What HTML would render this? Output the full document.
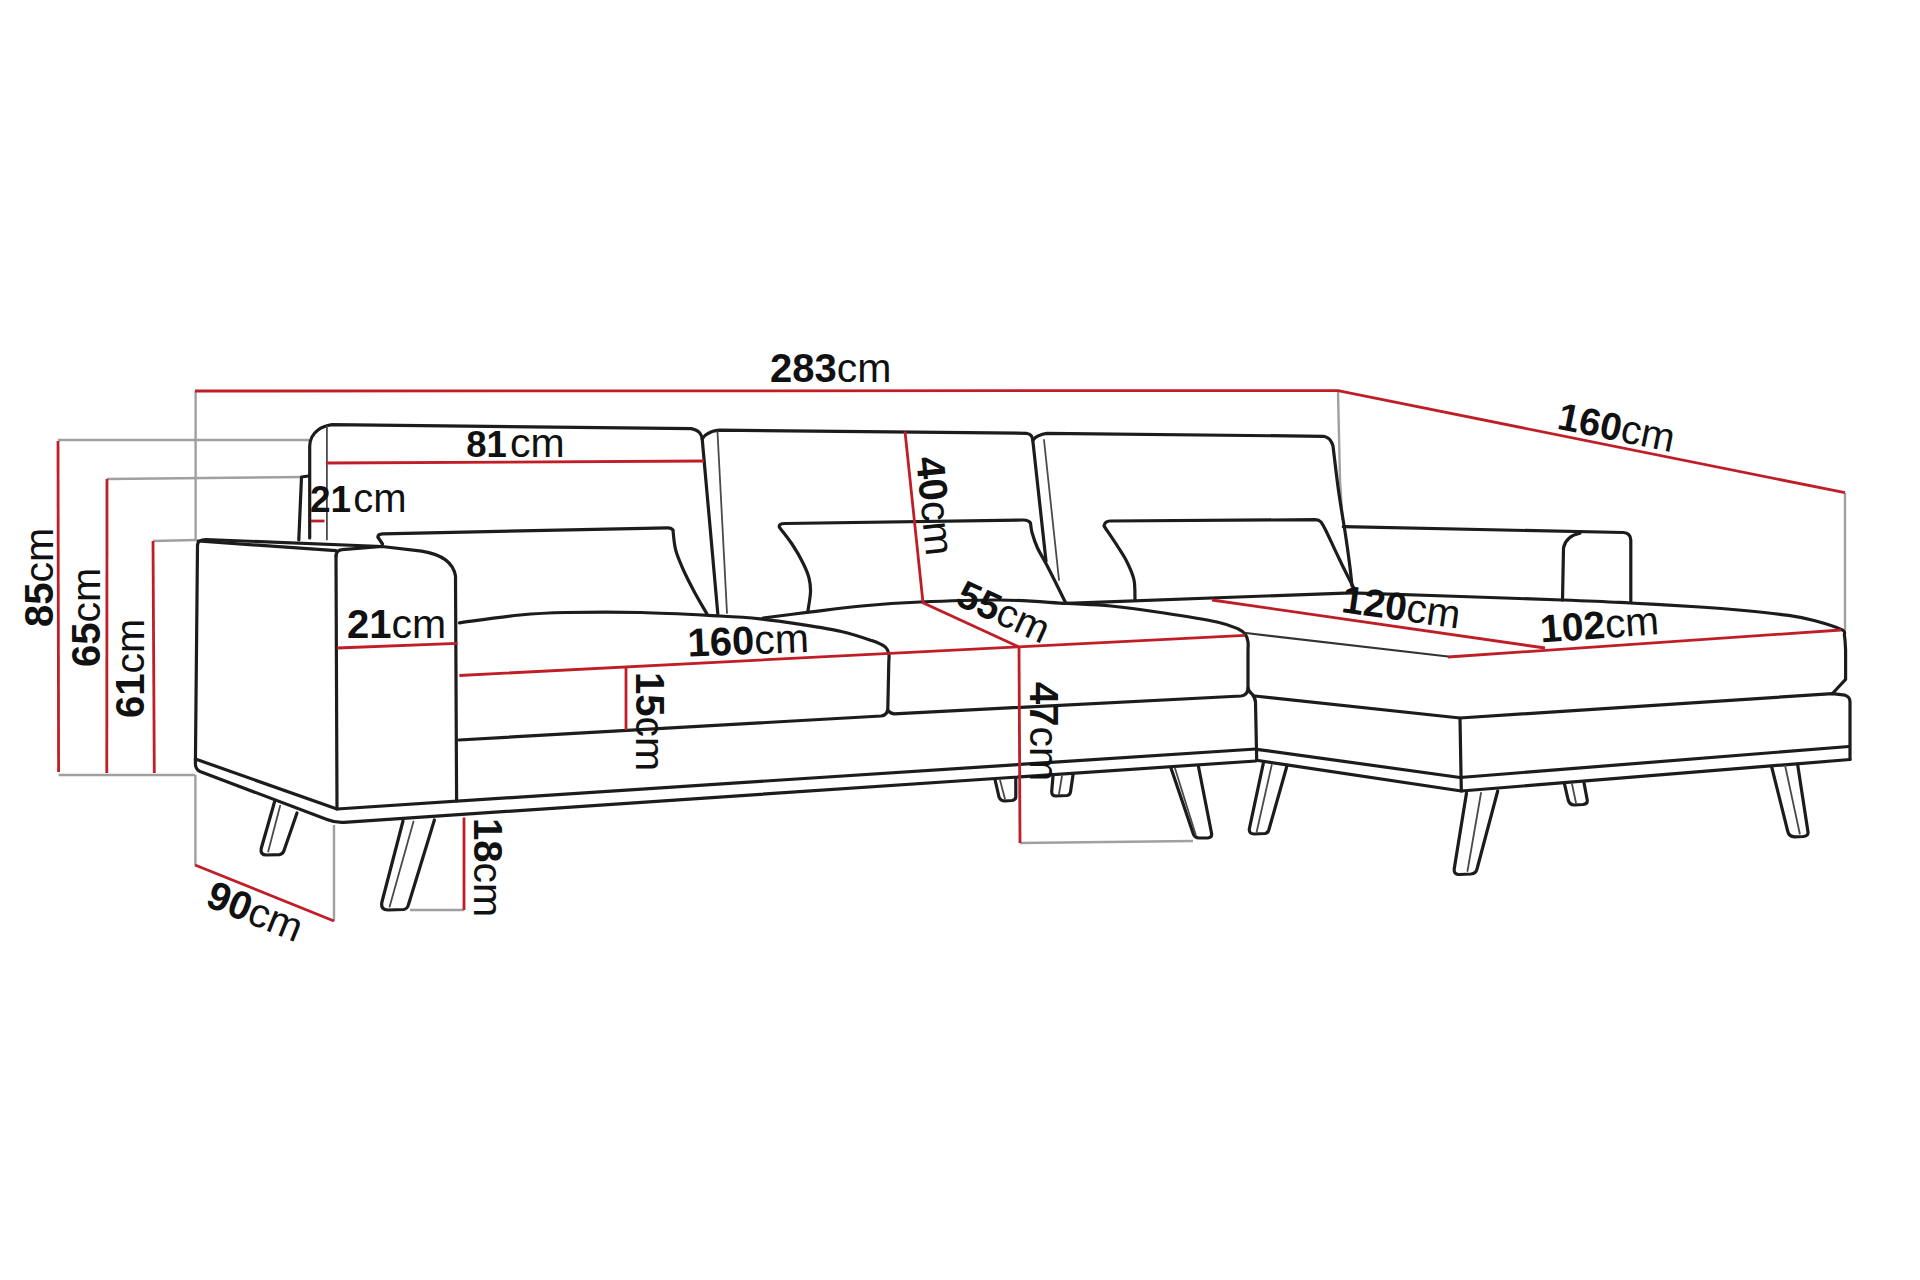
<!DOCTYPE html>
<html><head><meta charset="utf-8"><title>Sofa dimensions</title>
<style>
html,body{margin:0;padding:0;background:#fff;width:1920px;height:1280px;overflow:hidden}
svg{display:block}
.k{stroke:#1c1c1c;stroke-width:3.2;fill:none;stroke-linecap:round;stroke-linejoin:round}
.t{stroke:#4a4a4a;stroke-width:1.8;fill:none;stroke-linecap:round}
.r{stroke:#c01e26;stroke-width:2.8;fill:none;stroke-linecap:butt}
.g{stroke:#a0a0a0;stroke-width:2.4;fill:none}
text{font-family:"Liberation Sans",sans-serif;fill:#111}
.b{font-weight:bold}
</style></head>
<body>
<svg width="1920" height="1280" viewBox="0 0 1920 1280">
<rect width="1920" height="1280" fill="#fff"/>

<!-- GRAY extension lines -->
<g class="g">
  <path d="M58,440 L309,440"/>
  <path d="M107,479 L301,477"/>
  <path d="M153,541 L196,540"/>
  <path d="M58.6,775 L195.4,775"/>
  <path d="M195.6,391 L195.6,540"/>
  <path d="M195.4,775 L195.4,865"/>
  <path d="M334,825 L334,921"/>
  <path d="M1338,391 L1340,480 L1342.5,520"/>
  <path d="M1845,493 L1845,631"/>
  <path d="M410,910 L464,910"/>
  <path d="M1020,843 L1193,841"/>
</g>

<!-- BLACK sofa outline -->
<g class="k">
  <!-- backrest 1 -->
  <path d="M309.7,538 L309.7,446 Q310,436 318,430 Q323,426 332,424.6 L691.2,428.6 Q698,430 700.5,434 Q702,436.5 702.2,439 L717.8,613.7"/>
  <!-- side panel -->
  <path d="M298.8,540 L301.5,477 L308.5,476"/>
  <!-- backrest 2 -->
  <path d="M702.2,439 Q704.5,435 708.4,433.3 Q712,431 719.4,430.2 L1026.5,433.3 Q1030,434 1031.3,435.8 Q1032.6,438 1032.8,440.3 L1046,561"/>
  <!-- backrest 3 -->
  <path d="M1032.8,440.3 Q1035,437 1039,435.6 Q1042,434 1046.9,433.3 L1323.8,436.3 Q1329,437.5 1331.3,441.9 Q1332.5,444 1333,446  C1334.0,453.8 1336.5,476.9 1338.8,492.5 C1341.0,508.1 1344.4,526.9 1346.2,539.4 C1348.1,551.9 1349.0,559.7 1350.0,567.5 C1351.0,575.3 1351.7,582.9 1352.0,586.0"/>
  <!-- armrest -->
  <path d="M197.5,545 Q198,539.5 206,539.5 L382,546.5"/>
  <path d="M198,541 L336,550.6"/>
  <path d="M336,556 L337,809"/>
  <path d="M336,556 Q336.5,550 342,549.7 L382,546.5 L421.6,551.2 Q452,556 455.5,576 L456.6,801"/>
  <!-- base main -->
  <path d="M195.4,759 L337,809 L1256,749"/>
  <path d="M197.5,545 L195.4,764 Q195.6,769.5 200,771.5 L327,819.5 Q335,822.8 344,822.3 L1256,761"/>
  <!-- cushion 1 -->
  <path d="M459.4,622.8 C469.5,621.5 502.2,616.7 520.0,615.0 C537.8,613.3 545.8,612.9 566.0,612.5 C586.2,612.1 615.3,611.9 641.0,612.5 C666.7,613.1 700.2,615.0 720.0,616.0 C739.8,617.0 746.6,617.4 760.0,618.8 C773.4,620.2 787.1,622.3 800.6,624.4 C814.1,626.5 829.4,628.8 841.3,631.5 C853.1,634.2 864.4,638.1 871.7,640.6 C879.0,643.1 882.1,644.6 885.0,646.7 C887.9,648.9 888.2,651.0 888.8,653.5 C889.4,656.0 888.8,660.6 888.8,662.0 L887.8,709 Q887,715.5 881,716 L459,740"/>
  <!-- cushion 2 -->
  <path d="M763.0,618.0 C770.6,617.0 792.4,614.2 808.8,612.2 C825.2,610.2 843.1,607.7 861.6,606.0 C880.1,604.3 896.9,603.0 920.0,602.0 C943.1,601.0 975.6,599.8 1000.0,600.0 C1024.4,600.2 1048.1,602.4 1066.6,603.4 C1085.1,604.4 1094.6,604.4 1110.8,606.0 C1127.0,607.6 1146.3,610.3 1164.0,613.0 C1181.7,615.7 1204.6,619.3 1217.0,622.0 C1229.4,624.7 1233.6,626.9 1238.3,629.0 C1243.0,631.1 1243.8,632.2 1245.4,634.4 C1247.0,636.6 1247.6,639.4 1248.0,642.0 C1248.4,644.6 1248.0,648.7 1248.0,650.0 L1248,689 Q1247,695.5 1241,696 L894,713.8 Q890,713.2 888.5,711"/>
  <!-- seat back -->
  <path d="M1066.6,603.4 L1352,592.8"/>
  <path d="M1352.0,592.8 C1387.0,594.0 1515.7,598.3 1562.0,600.0 C1608.3,601.7 1607.0,601.8 1630.0,603.0 C1653.0,604.2 1681.0,605.8 1700.0,607.0 C1719.0,608.2 1729.2,609.1 1744.0,610.5 C1758.8,611.9 1776.8,613.7 1788.6,615.4 C1800.4,617.1 1806.2,618.3 1815.0,620.7 C1823.8,623.1 1836.8,627.1 1841.7,629.6 C1846.6,632.1 1843.8,632.6 1844.5,636.0 C1845.2,639.4 1845.4,647.7 1845.6,650.0 L1845.6,679.4 L1832.5,693.5"/>
  <!-- chaise base -->
  <path d="M1248,688 Q1249,692 1252,694 Q1255,697 1255.5,702 L1256.7,760"/>
  <path d="M1255,696 L1460,718 L1832.5,693.6 L1845,695.2 Q1850,696.5 1850,702 L1850,759.5"/>
  <path d="M1460,718 L1461.3,791"/>
  <path d="M1256.7,749.3 L1460,777.5 L1849,746.5"/>
  <path d="M1258,760.5 L1461.3,791 L1850,759.5"/>
  <!-- bolster -->
  <path d="M1343.3,526.7 L1623.3,532.5 Q1630.5,533 1630.8,540 L1630.8,602.5"/>
  <path d="M1580,533.3 Q1566,536 1563.5,548 L1562.5,600"/>
  <!-- pillow 1 -->
  <path d="M382.5,544 L377.8,537 Q378,534 382.5,533.8 L668,527.8 Q671.5,527.8 673,530  C673.4,533.3 673.9,543.0 675.6,549.7 C677.3,556.4 680.3,563.0 683.4,570.0 C686.5,577.0 690.5,584.6 694.4,591.9 C698.3,599.2 704.8,610.1 706.9,613.8"/>
  <!-- pillow 2 -->
  <path d="M807.7,612.2 C808.2,608.8 810.3,597.7 810.5,592.0 C810.7,586.3 810.2,582.8 809.0,578.0 C807.8,573.2 805.8,568.7 803.0,563.0 C800.2,557.3 795.9,549.9 792.0,544.0 C788.1,538.1 781.6,530.2 779.5,527.5 Q778,523.5 785,523.5 L1023.5,520 Q1028.5,520 1030.5,523  C1030.8,524.6 1030.8,528.3 1032.0,532.5 C1033.2,536.7 1035.0,542.5 1037.5,548.0 C1040.0,553.5 1042.2,556.2 1046.9,565.3 C1051.6,574.4 1062.5,596.5 1065.6,602.8"/>
  <!-- pillow 3 -->
  <path d="M1135.0,600.0 C1134.8,596.7 1135.3,586.3 1134.0,580.0 C1132.7,573.7 1129.7,567.5 1127.0,562.0 C1124.3,556.5 1121.8,553.0 1118.0,547.0 C1114.2,541.0 1106.3,529.5 1104.0,526.0 Q1105,521 1110,521 L1315,519.7 Q1319,519.8 1321,522  C1321.8,523.3 1322.6,524.0 1325.6,530.0 C1328.6,536.0 1334.1,548.3 1338.8,558.0 C1343.4,567.7 1351.2,583.0 1353.8,588.0"/>
  <!-- legs -->
  <path d="M274.5,802 L261.2,848.5 Q260,855 266.5,855 L279.5,854.6 Q283,854 284,850.5 L297,813"/>
  <path d="M403,821 L381.8,902.5 Q380.5,910 388,910 L403.5,909.5 Q407.5,909 408.5,904.5 L434.4,820"/>
  <path d="M995,779.5 L999,797 Q1000.5,801 1005,801 L1012,800.5 Q1015.5,800 1015.8,797 L1015.8,779"/>
  <path d="M1053,776 L1051.7,791.5 Q1051.5,796 1056,796 L1067,795.5 Q1070,795 1070.5,792 L1073,775"/>
  <path d="M1170.8,767.5 L1193,833 Q1194.5,838 1199,838 L1208,838 Q1212,837.5 1211.7,834 L1198.3,765.8"/>
  <path d="M1263.3,763.3 L1249.3,829 Q1249,834 1254,834 L1265,833.5 Q1268,833 1268.8,830 L1286.7,766.7"/>
  <path d="M1466.5,793 L1454.2,869 Q1453.5,874.5 1459.5,874.5 L1471,874 Q1476,873.5 1477,869 L1497.7,791"/>
  <path d="M1564.4,783.7 L1568.2,800 Q1569.5,805 1574.5,805 L1583,804.5 Q1587.5,804 1587.3,800.5 L1584,782.7"/>
  <path d="M1771.7,767 L1787.8,831.5 Q1789,836.5 1794.5,836.8 L1803,836.5 Q1808.5,836 1808,832 L1797.7,765"/>
</g>
<!-- thin inner lines -->
<g class="t">
  <path d="M1246,633 L1448,656.5" style="stroke:#333;stroke-width:2.2"/>
  <path d="M326.9,426.5 L326.9,539.5"/>
  <path d="M717.5,432 L727,613"/>
  <path d="M1044,440 L1059,580"/>
  <path d="M280.2,805.6 L268.2,851.5"/>
  <path d="M413.5,821.5 L389.6,906.7"/>
  <path d="M1000,780 L1005,799"/>
  <path d="M1062,776 L1059,794"/>
  <path d="M1175,768.3 L1195.8,835"/>
  <path d="M1271.7,765 L1256.7,831.7"/>
  <path d="M1481,793 L1467.5,871"/>
  <path d="M1572,784 L1576,803"/>
  <path d="M1785.2,766 L1799.8,833.7"/>
</g>

<!-- RED dimension lines -->
<g class="r">
  <path d="M195,391 L1338,390.6 L1845,492.7"/>
  <path d="M58,441 L58.6,772"/>
  <path d="M107,479 L106.8,773"/>
  <path d="M153,541 L154.3,773"/>
  <path d="M326,463 L704,461"/>
  <path d="M311,521 L324.5,521"/>
  <path d="M337,648 L457.5,643.4"/>
  <path d="M459.4,675.5 L1018.5,646.8 L1245,635.3"/>
  <path d="M626,667 L626,730"/>
  <path d="M905,431.5 L923,602.7 L1018.5,646.8"/>
  <path d="M1019,646 L1020,843"/>
  <path d="M1212,600 L1545,648"/>
  <path d="M1448,657 L1841,630"/>
  <path d="M464,817.5 L464,910"/>
  <path d="M195,865 L334,921"/>
</g>

<!-- TEXT labels -->
<text id="283" x="770" y="382" font-size="40"><tspan class="b">283</tspan><tspan font-size="41">cm</tspan></text>
<text id="81" x="466.3" y="457.2" font-size="36.5"><tspan class="b">81</tspan><tspan font-size="41" dx="3">cm</tspan></text>
<text id="21b" x="310" y="512" font-size="37"><tspan class="b">21</tspan><tspan font-size="40" dx="2">cm</tspan></text>
<text id="21a" x="347" y="637.5" font-size="40"><tspan class="b">21</tspan><tspan font-size="41">cm</tspan></text>
<text id="160s" transform="translate(688,656.5) rotate(-2.2)" font-size="40"><tspan class="b">160</tspan><tspan font-size="41">cm</tspan></text>
<text id="85" transform="translate(52.5,627) rotate(-90)" font-size="40"><tspan class="b">85</tspan><tspan font-size="41">cm</tspan></text>
<text id="65" transform="translate(100,667) rotate(-90)" font-size="40"><tspan class="b">65</tspan><tspan font-size="41">cm</tspan></text>
<text id="61" transform="translate(144,718) rotate(-90)" font-size="40"><tspan class="b">61</tspan><tspan font-size="41">cm</tspan></text>
<text id="15" transform="translate(636,672) rotate(90)" font-size="40"><tspan class="b">15</tspan><tspan font-size="41">cm</tspan></text>
<text id="40" transform="translate(916,458) rotate(84)" font-size="40"><tspan class="b">40</tspan><tspan font-size="41">cm</tspan></text>
<text id="47" transform="translate(1030,682) rotate(90)" font-size="40"><tspan class="b">47</tspan><tspan font-size="41">cm</tspan></text>
<text id="18" transform="translate(474,818) rotate(90)" font-size="40"><tspan class="b">18</tspan><tspan font-size="41">cm</tspan></text>
<text id="55" transform="translate(954,604) rotate(24.5)" font-size="39"><tspan class="b">55</tspan><tspan font-size="40">cm</tspan></text>
<text id="90" transform="translate(204,905.5) rotate(22)" font-size="40"><tspan class="b">90</tspan><tspan font-size="41">cm</tspan></text>
<text id="160c" transform="translate(1556,428.6) rotate(11.5)" font-size="38.5"><tspan class="b">160</tspan><tspan font-size="40.5">cm</tspan></text>
<text id="120" transform="translate(1340.5,612) rotate(8)" font-size="39"><tspan class="b">120</tspan><tspan font-size="40.5">cm</tspan></text>
<text id="102" transform="translate(1541,642.5) rotate(-4)" font-size="39"><tspan class="b">102</tspan><tspan font-size="40.5">cm</tspan></text>
</svg>
</body></html>
